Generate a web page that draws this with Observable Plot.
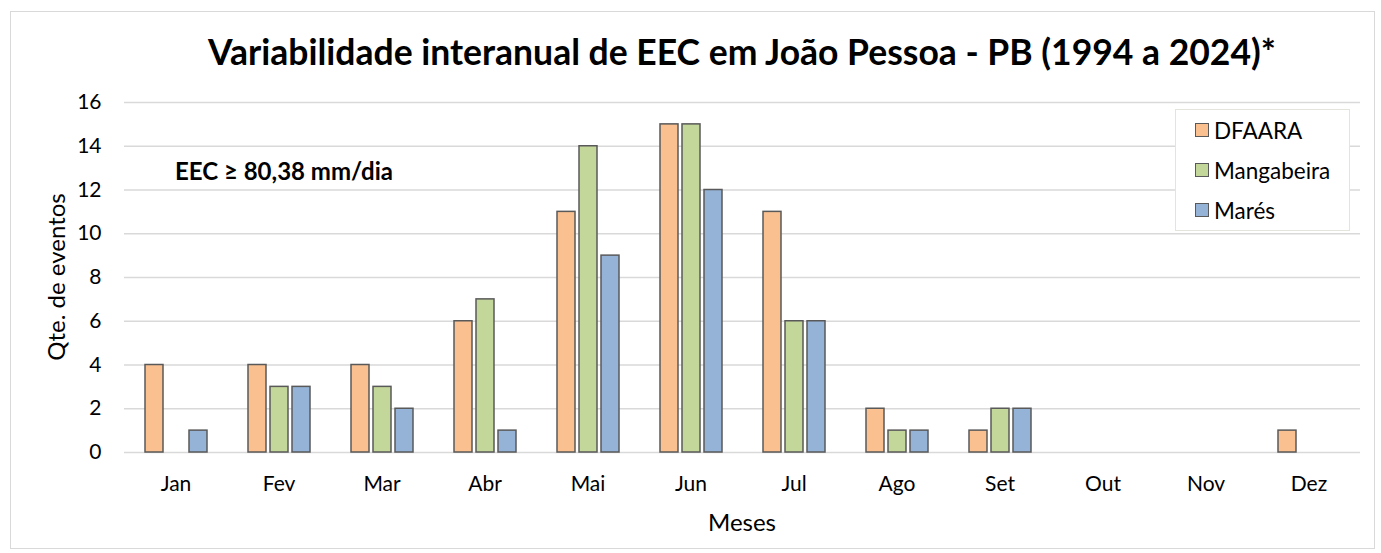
<!DOCTYPE html>
<html>
<head>
<meta charset="utf-8">
<script src="https://cdn.jsdelivr.net/npm/d3@7"></script>
<script src="https://cdn.jsdelivr.net/npm/@observablehq/plot@0.6"></script>
<style>
  body { margin: 0; background: #fff; font-family: "Lato", "Open Sans", sans-serif; color: #000; }
  #wrap { position: relative; width: 1381px; height: 553px; overflow: hidden; }
  #frame { position: absolute; left: 10px; top: 11px; width: 1363px; height: 536px; border: 1px solid #d9d9d9; }
  #title { position: absolute; left: 123px; width: 1238px; top: 30px; text-align: center; font-weight: bold; font-size: 35.5px; line-height: 44px; white-space: nowrap; }
  #chart { position: absolute; left: 0; top: 72px; }
  #note { position: absolute; left: 175px; top: 156px; font-weight: bold; font-size: 24px; line-height: 30px; white-space: nowrap; }
  #ylab { position: absolute; left: 55px; top: 277px; transform: translate(-50%, -50%) rotate(-90deg); font-size: 24px; white-space: nowrap; }
  #xlab { position: absolute; left: 742px; top: 521px; transform: translate(-50%, -50%); font-size: 24px; white-space: nowrap; }
  #legend { position: absolute; left: 1175px; top: 109px; width: 173px; height: 120px; border: 1px solid #e4e4dc; background: #fff; }
  .item { position: absolute; left: 19px; height: 28px; display: flex; align-items: center; font-size: 22.5px; white-space: nowrap; }
  .sw { width: 12px; height: 12px; border: 1.5px solid #595959; margin-right: 5px; }
</style>
</head>
<body>
<div id="wrap">
  <div id="frame"></div>
  <div id="title"></div>
  <div id="chart"></div>
  <div id="note"></div>
  <div id="ylab"></div>
  <div id="xlab"></div>
  <div id="legend"></div>
</div>
<script>
const months = ["Jan","Fev","Mar","Abr","Mai","Jun","Jul","Ago","Set","Out","Nov","Dez"];
const seriesNames = ["DFAARA","Mangabeira","Marés"];
const seriesColors = ["#FAC090","#C4D79B","#95B3D7"];
const dfaara     = [4, 4, 4, 6, 11, 15, 11, 2, 1, 0, 0, 1];
const mangabeira = [0, 3, 3, 7, 14, 15, 6, 1, 2, 0, 0, 0];
const mares      = [1, 3, 2, 1, 9, 12, 6, 1, 2, 0, 0, 0];
const yTicks = [0, 2, 4, 6, 8, 10, 12, 14, 16];
const titleText = "Variabilidade interanual de EEC em João Pessoa - PB (1994 a 2024)*";
const noteText = "EEC ≥ 80,38 mm/dia";
const yLabel = "Qte. de eventos";
const xLabel = "Meses";

const seriesValues = [dfaara, mangabeira, mares];
const rows = [];
months.forEach((m, i) => {
  seriesNames.forEach((s, j) => {
    rows.push({month: m, series: s, value: seriesValues[j][i]});
  });
});

document.getElementById("title").textContent = titleText;
document.getElementById("note").textContent = noteText;
document.getElementById("ylab").textContent = yLabel;
document.getElementById("xlab").textContent = xLabel;

const legend = document.getElementById("legend");
seriesNames.forEach((s, j) => {
  const it = document.createElement("div");
  it.className = "item";
  it.style.top = (6 + j * 40) + "px";
  const sw = document.createElement("div");
  sw.className = "sw";
  sw.style.background = seriesColors[j];
  const t = document.createElement("span");
  t.textContent = s;
  it.appendChild(sw);
  it.appendChild(t);
  legend.appendChild(it);
});

const plot = Plot.plot({
  width: 1381,
  height: 473,
  marginLeft: 123,
  marginRight: 20,
  marginTop: 30,
  marginBottom: 93,
  style: {fontFamily: "Lato, 'Open Sans', sans-serif", fontSize: "21px", color: "#000", background: "transparent"},
  fx: {domain: months, padding: 0, label: null, tickSize: 0, tickPadding: 24},
  x: {domain: seriesNames, paddingInner: 0.2, paddingOuter: 0.84, axis: null},
  y: {domain: [0, 16], ticks: yTicks, tickSize: 0, tickPadding: 23, label: null},
  color: {domain: seriesNames, range: seriesColors},
  marks: [
    Plot.ruleY(yTicks, {stroke: "#d9d9d9", strokeWidth: 1.5}),
    Plot.barY(rows, {fx: "month", x: "series", y: "value", fill: "none"}),
    Plot.barY(rows.filter(d => d.value > 0), {
      fx: "month", x: "series", y: "value",
      fill: "series", stroke: "#595959", strokeWidth: 1.5
    })
  ]
});
document.getElementById("chart").appendChild(plot);
</script>
</body>
</html>
